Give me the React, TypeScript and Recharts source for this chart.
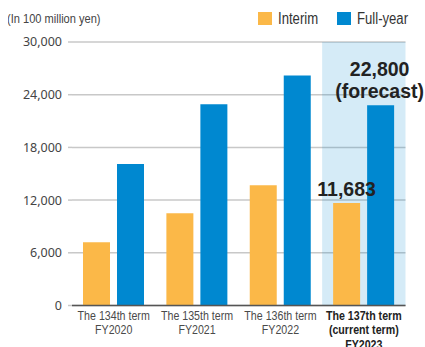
import { Bar, BarChart, CartesianGrid, LabelList, ReferenceArea, XAxis, YAxis } from "recharts";

const terms = ["The 134th term", "The 135th term", "The 136th term", "The 137th term"];
const termNotes = ["", "", "", "(current term)"];
const fiscalYears = ["FY2020", "FY2021", "FY2022", "FY2023"];
const interim = [7200, 10500, 13700, 11683];
const fullYear = [16100, 22900, 26200, 22800];
const yTicks = [0, 6000, 12000, 18000, 24000, 30000];

// index of the current (forecast) term
const CURRENT = 3;

const data = fiscalYears.map((fy, i) => ({
  fy,
  interim: interim[i],
  fullYear: fullYear[i],
}));

// the forecast note runs right up to the page edge, so drop the body's right margin
if (typeof document !== "undefined") document.body.style.marginRight = "0";

// no narrow face installed, so squeeze Liberation Sans horizontally
const SANS = "'Liberation Sans', Arial, sans-serif";
const SQUEEZE = 0.82;
const ORANGE = "#FBB848";
const BLUE = "#0088D0";

const fmt = (v: number) => v.toLocaleString("en-US");

const TermTick = (props: any) => {
  const { x, y, payload } = props;
  const i = fiscalYears.indexOf(payload.value);
  const current = i === CURRENT;
  const lines = [terms[i], termNotes[i], fiscalYears[i]].filter(Boolean);
  return (
    <g transform={`translate(${x},${y}) scale(${SQUEEZE},1)`}>
      <text
        x={0}
        y={0}
        textAnchor="middle"
        fontFamily={SANS}
        fontSize={13}
        fontWeight={current ? "bold" : "normal"}
        fill={current ? "#222" : "#4a4a4a"}
      >
        {lines.map((t, k) => (
          <tspan key={k} x={0} y={14.5 + k * 14.5}>
            {t}
          </tspan>
        ))}
      </text>
    </g>
  );
};

const forecastLabel = (props: any) => {
  const { x, y, width, value, index } = props;
  if (index !== CURRENT) return null;
  const cx = Number(x) + Number(width) / 2 - 1;
  return (
    <text x={cx} textAnchor="middle" fontFamily={SANS} fontWeight="bold" fontSize={19.5} fill="#222">
      <tspan x={cx} y={Number(y) - 29}>{fmt(value)}</tspan>
      <tspan x={cx} y={Number(y) - 7.5}>(forecast)</tspan>
    </text>
  );
};

const interimLabel = (props: any) => {
  const { x, y, width, value, index } = props;
  if (index !== CURRENT) return null;
  return (
    <text
      x={Number(x) + Number(width) / 2}
      y={Number(y) - 6.5}
      textAnchor="middle"
      fontFamily={SANS}
      fontWeight="bold"
      fontSize={19.5}
      fill="#222"
    >
      {fmt(value)}
    </text>
  );
};

const narrowText: React.CSSProperties = {
  position: "absolute",
  whiteSpace: "nowrap",
  fontFamily: SANS,
  transform: `scaleX(${SQUEEZE})`,
  transformOrigin: "left center",
};

const swatch = (left: number, color: string): React.CSSProperties => ({
  position: "absolute",
  left,
  top: 4,
  width: 14,
  height: 13,
  background: color,
});

export default function App() {
  return (
    <div style={{ position: "relative", width: 417, height: 339 }}>
      <div style={{ ...narrowText, left: -1, top: 1, fontSize: 13.5, lineHeight: "20px", color: "#444" }}>
        (In 100 million yen)
      </div>
      <div style={swatch(250, ORANGE)} />
      <div style={{ ...narrowText, left: 270, top: 0, fontSize: 16, lineHeight: "21px", color: "#333" }}>Interim</div>
      <div style={swatch(329, BLUE)} />
      <div style={{ ...narrowText, left: 349, top: 0, fontSize: 16, lineHeight: "21px", color: "#333" }}>Full-year</div>
      <BarChart
        width={417}
        height={339}
        data={data}
        margin={{ top: 34, right: 19.5, left: 0, bottom: 0 }}
        barSize={27}
        barGap={7}
      >
        <ReferenceArea
          x1={fiscalYears[CURRENT]}
          x2={fiscalYears[CURRENT]}
          y1={0}
          y2={30000}
          fill={BLUE}
          fillOpacity={0.165}
          stroke="none"
        />
        <CartesianGrid vertical={false} stroke="#c8c8c8" strokeWidth={1.5} />
        <XAxis
          dataKey="fy"
          height={41.5}
          axisLine={{ stroke: "#555", strokeWidth: 1.5 }}
          tickLine={false}
          tickSize={0}
          tickMargin={0}
          interval={0}
          tick={TermTick}
        />
        <YAxis
          width={64}
          domain={[0, 30000]}
          ticks={yTicks}
          tickFormatter={fmt}
          axisLine={false}
          tickLine={{ stroke: "#c8c8c8", strokeWidth: 1.5 }}
          tickSize={4}
          tickMargin={6}
          tick={{ fontFamily: "'Noto Sans', sans-serif", fontSize: 12.5, fill: "#444" }}
        />
        <Bar dataKey="interim" fill={ORANGE} isAnimationActive={false}>
          <LabelList dataKey="interim" content={interimLabel} />
        </Bar>
        <Bar dataKey="fullYear" fill={BLUE} isAnimationActive={false}>
          <LabelList dataKey="fullYear" content={forecastLabel} />
        </Bar>
      </BarChart>
    </div>
  );
}
